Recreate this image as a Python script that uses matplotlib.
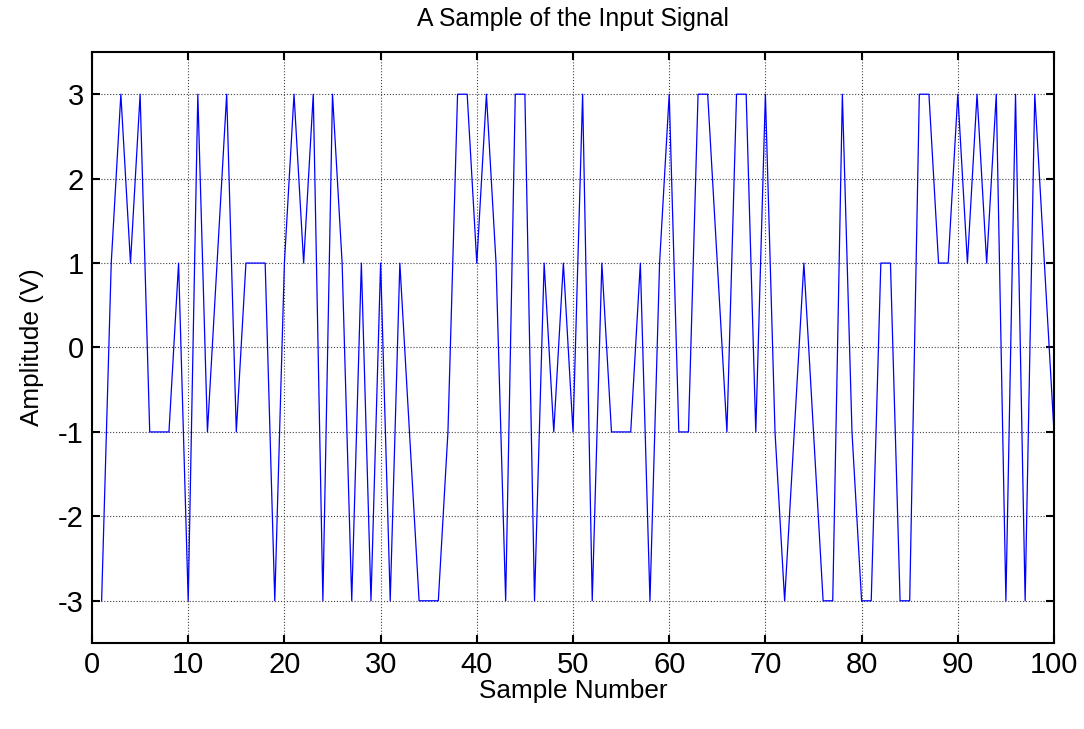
import matplotlib.pyplot as plt
import numpy as np

plt.rcParams['font.family'] = ['Liberation Sans', 'DejaVu Sans']
plt.rcParams['axes.unicode_minus'] = False

# sample index and 4-level amplitude
samples = np.arange(1, 101)
amplitude = [-3, 1, 3, 1, 3, -1, -1, -1, 1, -3,
             3, -1, 1, 3, -1, 1, 1, 1, -3, 1,
             3, 1, 3, -3, 3, 1, -3, 1, -3, 1,
             -3, 1, -1, -3, -3, -3, -1, 3, 3, 1,
             3, 1, -3, 3, 3, -3, 1, -1, 1, -1,
             3, -3, 1, -1, -1, -1, 1, -3, 1, 3,
             -1, -1, 3, 3, 1, -1, 3, 3, -1, 3,
             -1, -3, -1, 1, -1, -3, -3, 3, -1, -3,
             -3, 1, 1, -3, -3, 3, 3, 1, 1, 3,
             1, 3, 1, 3, -3, 3, -3, 3, 1, -1]

xticks = np.arange(0, 101, 10)
yticks = np.arange(-3, 4, 1)

fig = plt.figure(figsize=(10.84, 7.29), dpi=100)
ax = fig.add_axes([92/1084, 1 - 643/729, (1054-92)/1084, (643-52)/729])

ax.plot(samples, amplitude, color='#0000ff', linewidth=0.9)

ax.set_xlim(0, 100)
ax.set_ylim(-3.5, 3.5)
ax.set_xticks(xticks)
ax.set_yticks(yticks)
ax.grid(True, linestyle=':', color='#444444', linewidth=0.8)
ax.tick_params(direction='in', top=True, right=True, length=6, width=1.5,
               labelsize=21, pad=6)
for s in ax.spines.values():
    s.set_linewidth(1.5)

ax.set_title('A Sample of the Input Signal', fontsize=17.8, pad=19)
ax.set_xlabel('Sample Number', fontsize=18.8, labelpad=0)
ax.set_ylabel('Amplitude (V)', fontsize=18.8, labelpad=10)

fig.savefig('out.png', dpi=100)
